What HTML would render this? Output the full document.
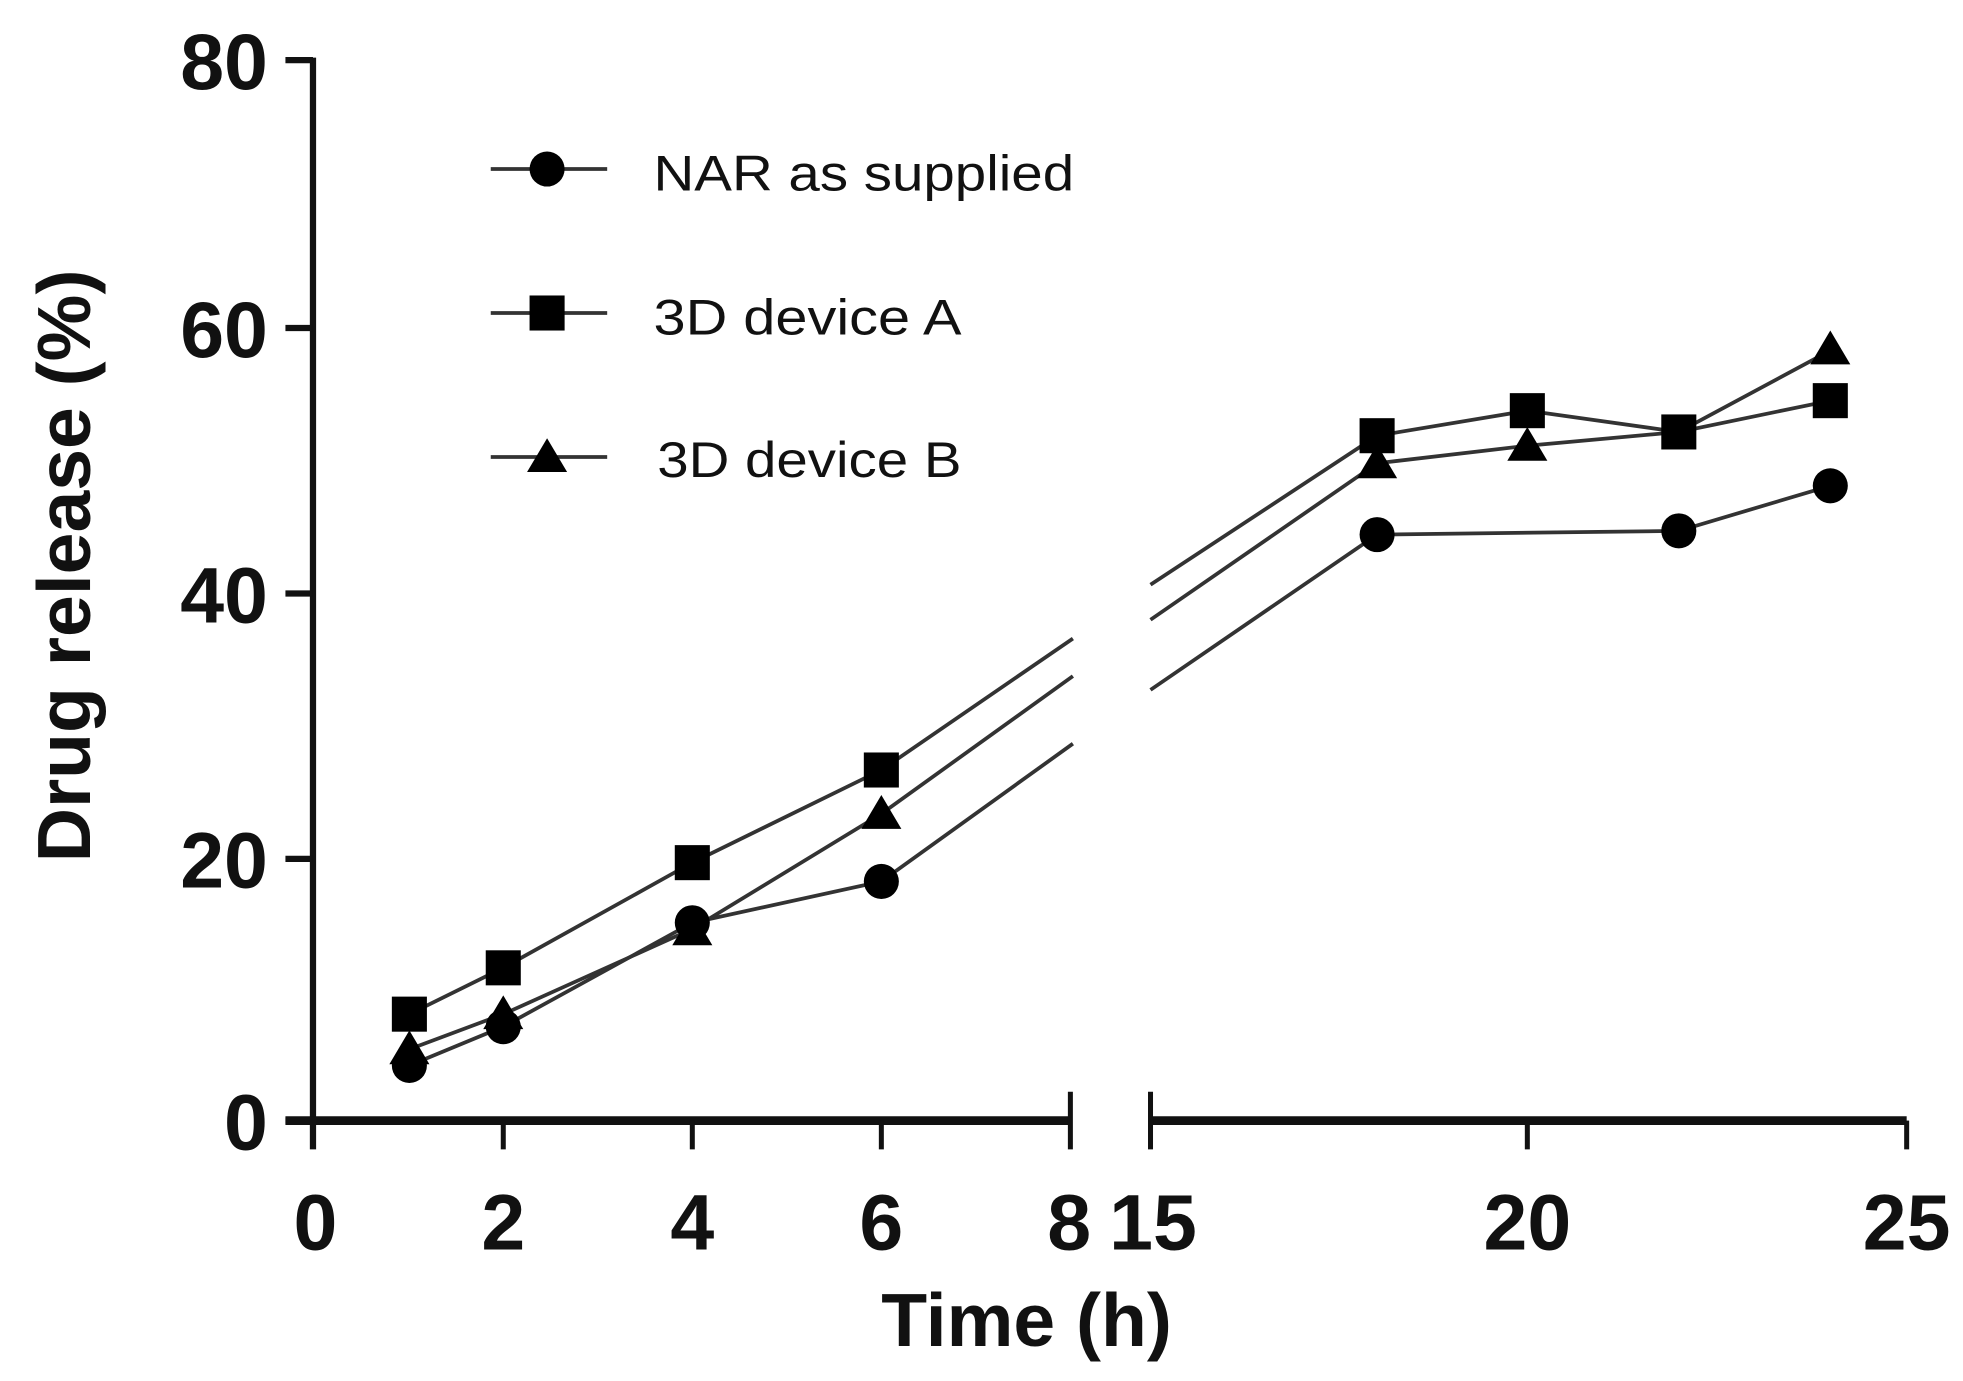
<!DOCTYPE html>
<html><head><meta charset="utf-8"><style>html,body{margin:0;padding:0;background:#fff}svg{display:block}</style></head>
<body>
<svg width="1963" height="1381" viewBox="0 0 1568 1103" preserveAspectRatio="none" xmlns="http://www.w3.org/2000/svg">
<rect width="1568" height="1103" fill="#fff"/>
<g stroke="#111" fill="none">
<line x1="250" y1="46" x2="250" y2="918" stroke-width="5"/>
<g stroke-width="5">
<line x1="228" y1="48" x2="250" y2="48"/>
<line x1="228" y1="262" x2="250" y2="262"/>
<line x1="228" y1="474" x2="250" y2="474"/>
<line x1="228" y1="686" x2="250" y2="686"/>
<line x1="228" y1="895" x2="250" y2="895"/>
</g>
<line x1="228" y1="895" x2="855" y2="895" stroke-width="7"/>
<line x1="919" y1="895" x2="1523" y2="895" stroke-width="7"/>
<g stroke-width="4">
<line x1="402" y1="895" x2="402" y2="918"/>
<line x1="553" y1="895" x2="553" y2="918"/>
<line x1="704" y1="895" x2="704" y2="918"/>
<line x1="855" y1="872" x2="855" y2="918"/>
<line x1="919" y1="872" x2="919" y2="918"/>
<line x1="1220" y1="895" x2="1220" y2="918"/>
<line x1="1523" y1="895" x2="1523" y2="918"/>
</g>
</g>
<g font-family="Liberation Sans, sans-serif" font-weight="bold" font-size="63" fill="#111">
<g text-anchor="end">
<text x="214" y="71">80</text>
<text x="214" y="285">60</text>
<text x="214" y="497">40</text>
<text x="214" y="709">20</text>
<text x="214" y="918">0</text>
</g>
<g text-anchor="middle">
<text x="252" y="998">0</text>
<text x="402" y="998">2</text>
<text x="553" y="998">4</text>
<text x="704" y="998">6</text>
<text x="854" y="998">8</text>
<text x="921" y="998">15</text>
<text x="1220" y="998">20</text>
<text x="1523" y="998">25</text>
</g>
</g>
<g font-family="Liberation Sans, sans-serif" font-weight="bold" font-size="60" fill="#111" text-anchor="middle">
<text x="820" y="1075">Time (h)</text>
<text transform="translate(72,452) rotate(-90)">Drug release (%)</text>
</g>
<g stroke="#333" stroke-width="3" fill="none">
<polyline points="327,851 402,820 553,737 704,704 857,594"/>
<polyline points="919,551 1100,427 1341,424 1462,388"/>
<polyline points="327,810 402,773 553,689 704,615 857,510"/>
<polyline points="919,467 1100,348 1220,328 1341,345 1462,320"/>
<polyline points="327,838 402,810 553,742 704,650 857,540"/>
<polyline points="919,495 1100,370 1220,356 1341,345 1462,280"/>
<line x1="392" y1="135" x2="485" y2="135"/>
<line x1="392" y1="250" x2="485" y2="250"/>
<line x1="392" y1="365" x2="485" y2="365"/>
</g>
<g fill="#000">
<circle cx="327" cy="851" r="14"/><circle cx="402" cy="820" r="14"/><circle cx="553" cy="737" r="14"/><circle cx="704" cy="704" r="14"/>
<circle cx="1100" cy="427" r="14"/><circle cx="1341" cy="424" r="14"/><circle cx="1462" cy="388" r="14"/>
<circle cx="437" cy="135" r="14"/>
<rect x="313" y="796" width="28" height="28"/><rect x="388" y="759" width="28" height="28"/><rect x="539" y="675" width="28" height="28"/><rect x="690" y="601" width="28" height="28"/>
<rect x="1086" y="334" width="28" height="28"/><rect x="1206" y="314" width="28" height="28"/><rect x="1327" y="331" width="28" height="28"/><rect x="1448" y="306" width="28" height="28"/>
<rect x="423" y="236" width="28" height="28"/>
<polygon points="327,823 343,850 311,850"/>
<polygon points="402,795 418,822 386,822"/>
<polygon points="553,728 569,755 537,755"/>
<polygon points="704,635 720,662 688,662"/>
<polygon points="1100,355 1116,382 1084,382"/>
<polygon points="1220,341 1236,368 1204,368"/>
<polygon points="1462,264 1478,291 1446,291"/>
<polygon points="437,350 453,377 421,377"/>
</g>
<g font-family="Liberation Sans, sans-serif" font-size="40" fill="#111">
<text x="522" y="152" textLength="336" lengthAdjust="spacingAndGlyphs">NAR as supplied</text>
<text x="522" y="267" textLength="246" lengthAdjust="spacingAndGlyphs">3D device A</text>
<text x="525" y="381" textLength="243" lengthAdjust="spacingAndGlyphs">3D device B</text>
</g>
</svg>
</body></html>
